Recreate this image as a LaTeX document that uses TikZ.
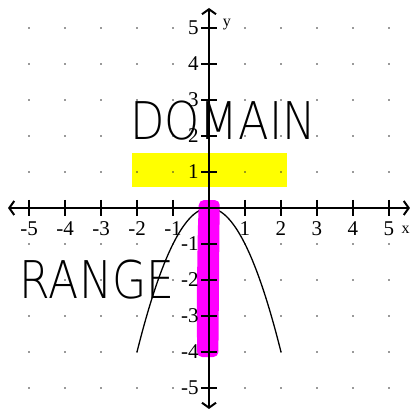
\documentclass[tikz,border=0pt]{standalone}
\usepackage{fontspec}
\setmainfont{Liberation Serif}
\newfontfamily\handfont{DejaVu Sans}[UprightFont=* ExtraLight]
\usetikzlibrary{arrows.meta}
\definecolor{hlyellow}{RGB}{255,255,0}
\definecolor{hlmagenta}{RGB}{255,0,255}
\begin{document}
\begin{tikzpicture}[x=36pt,y=36pt,
  barb/.tip={Straight Barb[length=5pt,width=14pt,line width=2pt]},
  axisline/.style={line width=2.6pt, barb-barb},
  tickmark/.style={line width=2.6pt},
  ticklabel/.style={font=\fontsize{21}{21}\selectfont, inner sep=0pt},
  axislabel/.style={font=\fontsize{16}{16}\selectfont, inner sep=0pt},
  gdot/.style={fill=black!80},
  hand/.style={font=\handfont\fontsize{52}{52}\selectfont, inner sep=0pt, text=black}
]
\useasboundingbox (-5.806,-5.611) rectangle (5.667,5.778);
% yellow highlight
\fill[hlyellow] (-2.14,1.53) rectangle (2.17,0.58);
% grid dots
\foreach \i in {-5,...,5}
  \foreach \j in {-5,...,5}
    \fill[gdot] (\i,\j) circle (0.8pt);
% handwritten words
\node[hand] (domain) at (0.39,2.42) {\scalebox{0.86}[1]{DOMAIN}};
\node[hand] (range) at (-3.11,-2.0) {\scalebox{0.85}[1]{RANGE}};
% parabola
\draw[line width=1.3pt] plot[domain=-2:2, samples=80, smooth] (\x,{-\x*\x});
% magenta highlight
\fill[hlmagenta, rounded corners=5pt] (-0.28,0.22) -- (0.3,0.22) -- (0.29,-0.6) -- (0.26,-4.14) -- (-0.33,-4.14) -- (-0.34,-2.5) -- (-0.31,-0.6) -- cycle;
% axes
\coordinate (xl) at (-5.583,0);
\coordinate (xr) at (5.583,0);
\coordinate (yt) at (0,5.556);
\coordinate (yb) at (0,-5.583);
\draw[axisline] (xl) -- (xr);
\draw[axisline] (yb) -- (yt);
% ticks and labels
\foreach \i in {-5,-4,-3,-2,-1,1,2,3,4,5} {
  \draw[tickmark] (\i,0.222) -- (\i,-0.222);
  \draw[tickmark] (0.222,\i) -- (-0.222,\i);
  \node[ticklabel] (xt\i) at (\i,-0.57) {\i};
  \node[ticklabel, anchor=east] (yt\i) at (-0.28,\i) {\i};
}
\node[axislabel] (xlab) at (5.46,-0.6) {x};
\node[axislabel] (ylab) at (0.5,5.1) {y};
\end{tikzpicture}
\end{document}
